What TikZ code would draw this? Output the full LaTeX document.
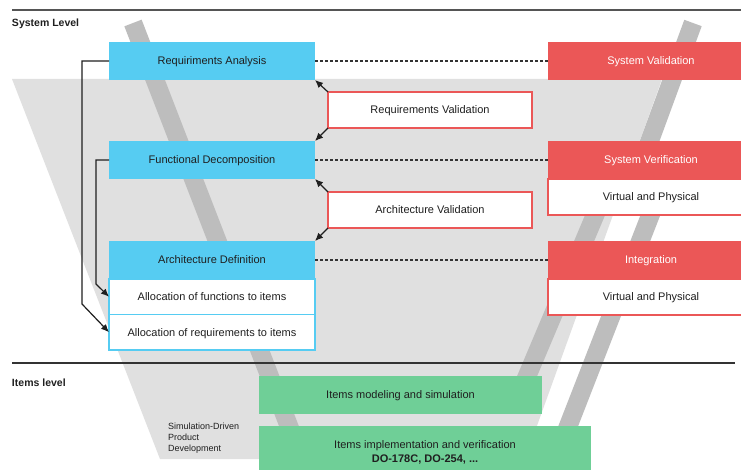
\documentclass[tikz,border=0pt]{standalone}
\usepackage{fontspec}
\setmainfont{Liberation Sans}
\usetikzlibrary{arrows.meta}
\definecolor{skyfill}{HTML}{56CCF2}
\definecolor{redfill}{HTML}{EB5757}
\definecolor{greenfill}{HTML}{6FCF97}
\definecolor{funnel}{HTML}{E0E0E0}
\definecolor{bandgrey}{HTML}{BDBDBD}
\definecolor{ink}{HTML}{1F1F1F}
\definecolor{rulegrey}{HTML}{555555}
\definecolor{ruledark}{HTML}{333333}

\begin{document}
\begin{tikzpicture}[x=1pt,y=-1pt,
  every node/.style={outer sep=0pt, inner sep=0pt, text=ink,
    font=\fontsize{11}{14}\selectfont},
  oneline/.style={text height=7.9, text depth=0},
  panel/.style={anchor=north west, oneline, minimum width=206, minimum height=#1},
  cyanhead/.style={panel=38, fill=skyfill},
  cyansub/.style={panel=35.5, fill=white, draw=skyfill, line width=1.3},
  redhead/.style={panel=38, fill=redfill, text=white},
  redsub/.style={panel=36, fill=white, draw=redfill, line width=1.3},
  checkbox/.style={anchor=north west, oneline, minimum width=204, minimum height=36,
    fill=white, draw=redfill, line width=1.3},
  greenbox/.style={anchor=north west, fill=greenfill, minimum height=#1},
  band/.style={draw=bandgrey, line width=18.5, line cap=butt},
  link/.style={draw=ink, line width=1.2, -{Latex[length=8,width=7]}},
  trace/.style={draw=ruledark, line width=1.1, dash pattern=on 3 off 2},
  levellabel/.style={anchor=west, text height=7.6, text depth=0,
    font=\fontsize{10.5}{12}\selectfont\bfseries}
]
\useasboundingbox (0,0) rectangle (741,470);
\clip (0,0) rectangle (741,470);
\fill[white] (0,0) rectangle (741,470);

% funnel background and slanted bands
\fill[funnel] (12,79) -- (662,79) -- (525,459) -- (160,459) -- cycle;
\draw[band] (133,23) -- (309,478);
\draw[band] (693,23) -- (628,200);
\draw[band] (612,175) -- (517,400);
\draw[band] (666,175) -- (548,478);

% level separators
\draw[draw=rulegrey, line width=1.5] (12,10) -- (741,10);
\draw[draw=ruledark, line width=1.3] (12,363) -- (735,363);

\node[levellabel] (sys) at (12,23) {System Level};
\node[levellabel] (itm) at (12,383) {Items level};

% left branch: development
\node[cyanhead] (ra) at (109,42) {Requiriments Analysis};
\node[cyanhead] (fd) at (109,141) {Functional Decomposition};
\node[cyanhead] (ad) at (109,241) {Architecture Definition};
\node[cyansub] (af) at (109,279) {Allocation of functions to items};
\node[cyansub] (ar) at (109,314.5) {Allocation of requirements to items};

% validation checks
\node[checkbox] (rv) at (328,92) {Requirements Validation};
\node[checkbox] (av) at (328,192) {Architecture Validation};

% right branch: verification
\node[redhead] (sval) at (548,42) {System Validation};
\node[redhead] (sver) at (548,141) {System Verification};
\node[redsub] (sverx) at (548,179) {Virtual and Physical};
\node[redhead] (integ) at (548,241) {Integration};
\node[redsub] (integx) at (548,279) {Virtual and Physical};

% items level
\node[greenbox=38, oneline, minimum width=283] (ims) at (259,376) {Items modeling and simulation};
\node[greenbox=52, minimum width=332, align=center] (iiv) at (259,426)
  {Items implementation and verification\\\textbf{DO-178C, DO-254, ...}};
\node[anchor=north west, align=left, font=\fontsize{9}{11}\selectfont] (sdpd) at (168,423)
  {Simulation-Driven\\Product\\Development};

% dotted correspondences
\draw[trace] (ra.east) -- (sval.west);
\draw[trace] (fd.east) -- (sver.west);
\draw[trace] (ad.east) -- (integ.west);

% validation feedback arrows
\draw[link] (rv.north west) -- (ra.south east);
\draw[link] (rv.south west) -- (fd.north east);
\draw[link] (av.north west) -- (fd.south east);
\draw[link] (av.south west) -- (ad.north east);

% allocation arrows
\draw[link] (ra.west) -- ++(-27,0) -- (82,304) -- (ar.west);
\draw[link] (fd.west) -- ++(-13,0) -- (96,284) -- (af.west);
\end{tikzpicture}
\end{document}
